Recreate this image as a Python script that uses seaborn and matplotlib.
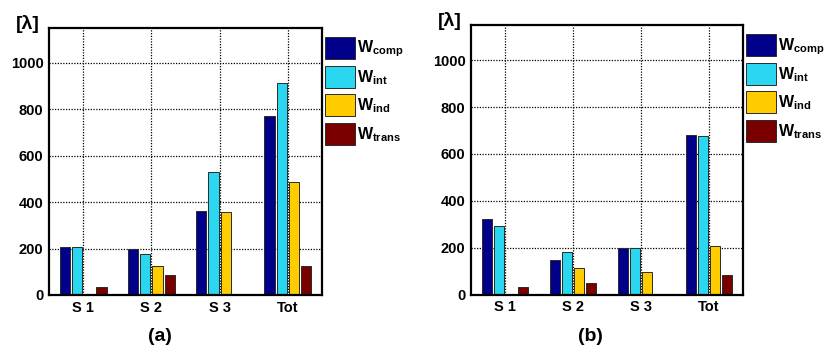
import matplotlib
matplotlib.use("Agg")
import matplotlib.pyplot as plt
import seaborn as sns
import pandas as pd

sections = ["S 1", "S 2", "S 3", "Tot"]
components = ["comp", "int", "ind", "trans"]

# Panel (a) energies per section
a_comp = [205, 196, 362, 773]
a_int = [205, 176, 528, 915]
a_ind = [0, 126, 357, 488]
a_trans = [33, 85, 0, 125]

# Panel (b) energies per section
b_comp = [324, 148, 198, 679]
b_int = [291, 182, 198, 677]
b_ind = [0, 112, 98, 209]
b_trans = [30, 50, 0, 83]

yticks = [0, 200, 400, 600, 800, 1000]
colors = ["#00008B", "#2AD6F0", "#FFCC00", "#7A0000"]
panel_tags = ["(a)", "(b)"]

sns.set_theme(style="white")
plt.rcParams["font.family"] = ["Liberation Sans", "DejaVu Sans"]
plt.rcParams["font.weight"] = "bold"
plt.rcParams["text.color"] = "black"
plt.rcParams["mathtext.fontset"] = "custom"
plt.rcParams["mathtext.bf"] = "Liberation Sans:bold"
plt.rcParams["mathtext.rm"] = "Liberation Sans:bold"


def to_frame(comp, inter, ind, trans):
    rows = []
    for series, vals in zip(components, [comp, inter, ind, trans]):
        for sec, v in zip(sections, vals):
            rows.append({"section": sec, "component": series, "value": v})
    return pd.DataFrame(rows)


frames = [to_frame(a_comp, a_int, a_ind, a_trans),
          to_frame(b_comp, b_int, b_ind, b_trans)]

fig = plt.figure(figsize=(8.27, 3.51), dpi=100)
axes_boxes = [
    [49 / 827, 1 - 295 / 351, 273 / 827, 267 / 351],
    [471 / 827, 1 - 294.5 / 351, 272 / 827, 269.5 / 351],
]
tag_x = [160 / 827, 590 / 827]

for df, box, tag, tx in zip(frames, axes_boxes, panel_tags, tag_x):
    ax = fig.add_axes(box)
    sns.barplot(data=df, x="section", y="value", hue="component",
                order=sections, hue_order=components, palette=colors,
                width=0.72, gap=0.17, edgecolor="#2a2a2a", linewidth=0.7,
                saturation=1, ax=ax)
    ax.set_xlim(-0.5, 3.5)
    ax.set_ylim(0, 1150)
    ax.set_yticks(yticks)
    ax.set_yticklabels([str(t) for t in yticks], fontsize=10.5, fontweight="bold")
    ax.set_xticks(range(len(sections)))
    ax.set_xticklabels(sections, fontsize=10.5, fontweight="bold")
    ax.set_xlabel("")
    ax.set_ylabel("")
    ax.grid(True, color="black", linestyle=(0, (1, 1.2)), linewidth=0.9)
    ax.set_axisbelow(False)
    for b in ax.patches:
        b.set_zorder(3)
    for s in ax.spines.values():
        s.set_color("black")
        s.set_linewidth(1.6)
        s.set_zorder(5)
    ax.tick_params(axis="both", direction="in", length=3, width=1,
                   color="black", pad=4, labelcolor="black")
    ax.text(-0.077, 1.015, "[λ]", transform=ax.transAxes, ha="center",
            va="center", fontsize=14, fontweight="bold", color="black")

    handles, _ = ax.get_legend_handles_labels()
    labels = [r"$\mathbf{W_{%s}}$" % c for c in components]
    ax.legend(handles, labels, loc="upper left", bbox_to_anchor=(1.01, 0.968),
              frameon=False, borderaxespad=0, borderpad=0,
              handlelength=1.88, handleheight=1.75, labelspacing=0.4,
              handletextpad=0.12, fontsize=11.5, labelcolor="black")
    fig.text(tx, 0.04, tag, ha="center", va="center", fontsize=14,
             fontweight="bold", color="black")

fig.savefig("out.png", dpi=100)
